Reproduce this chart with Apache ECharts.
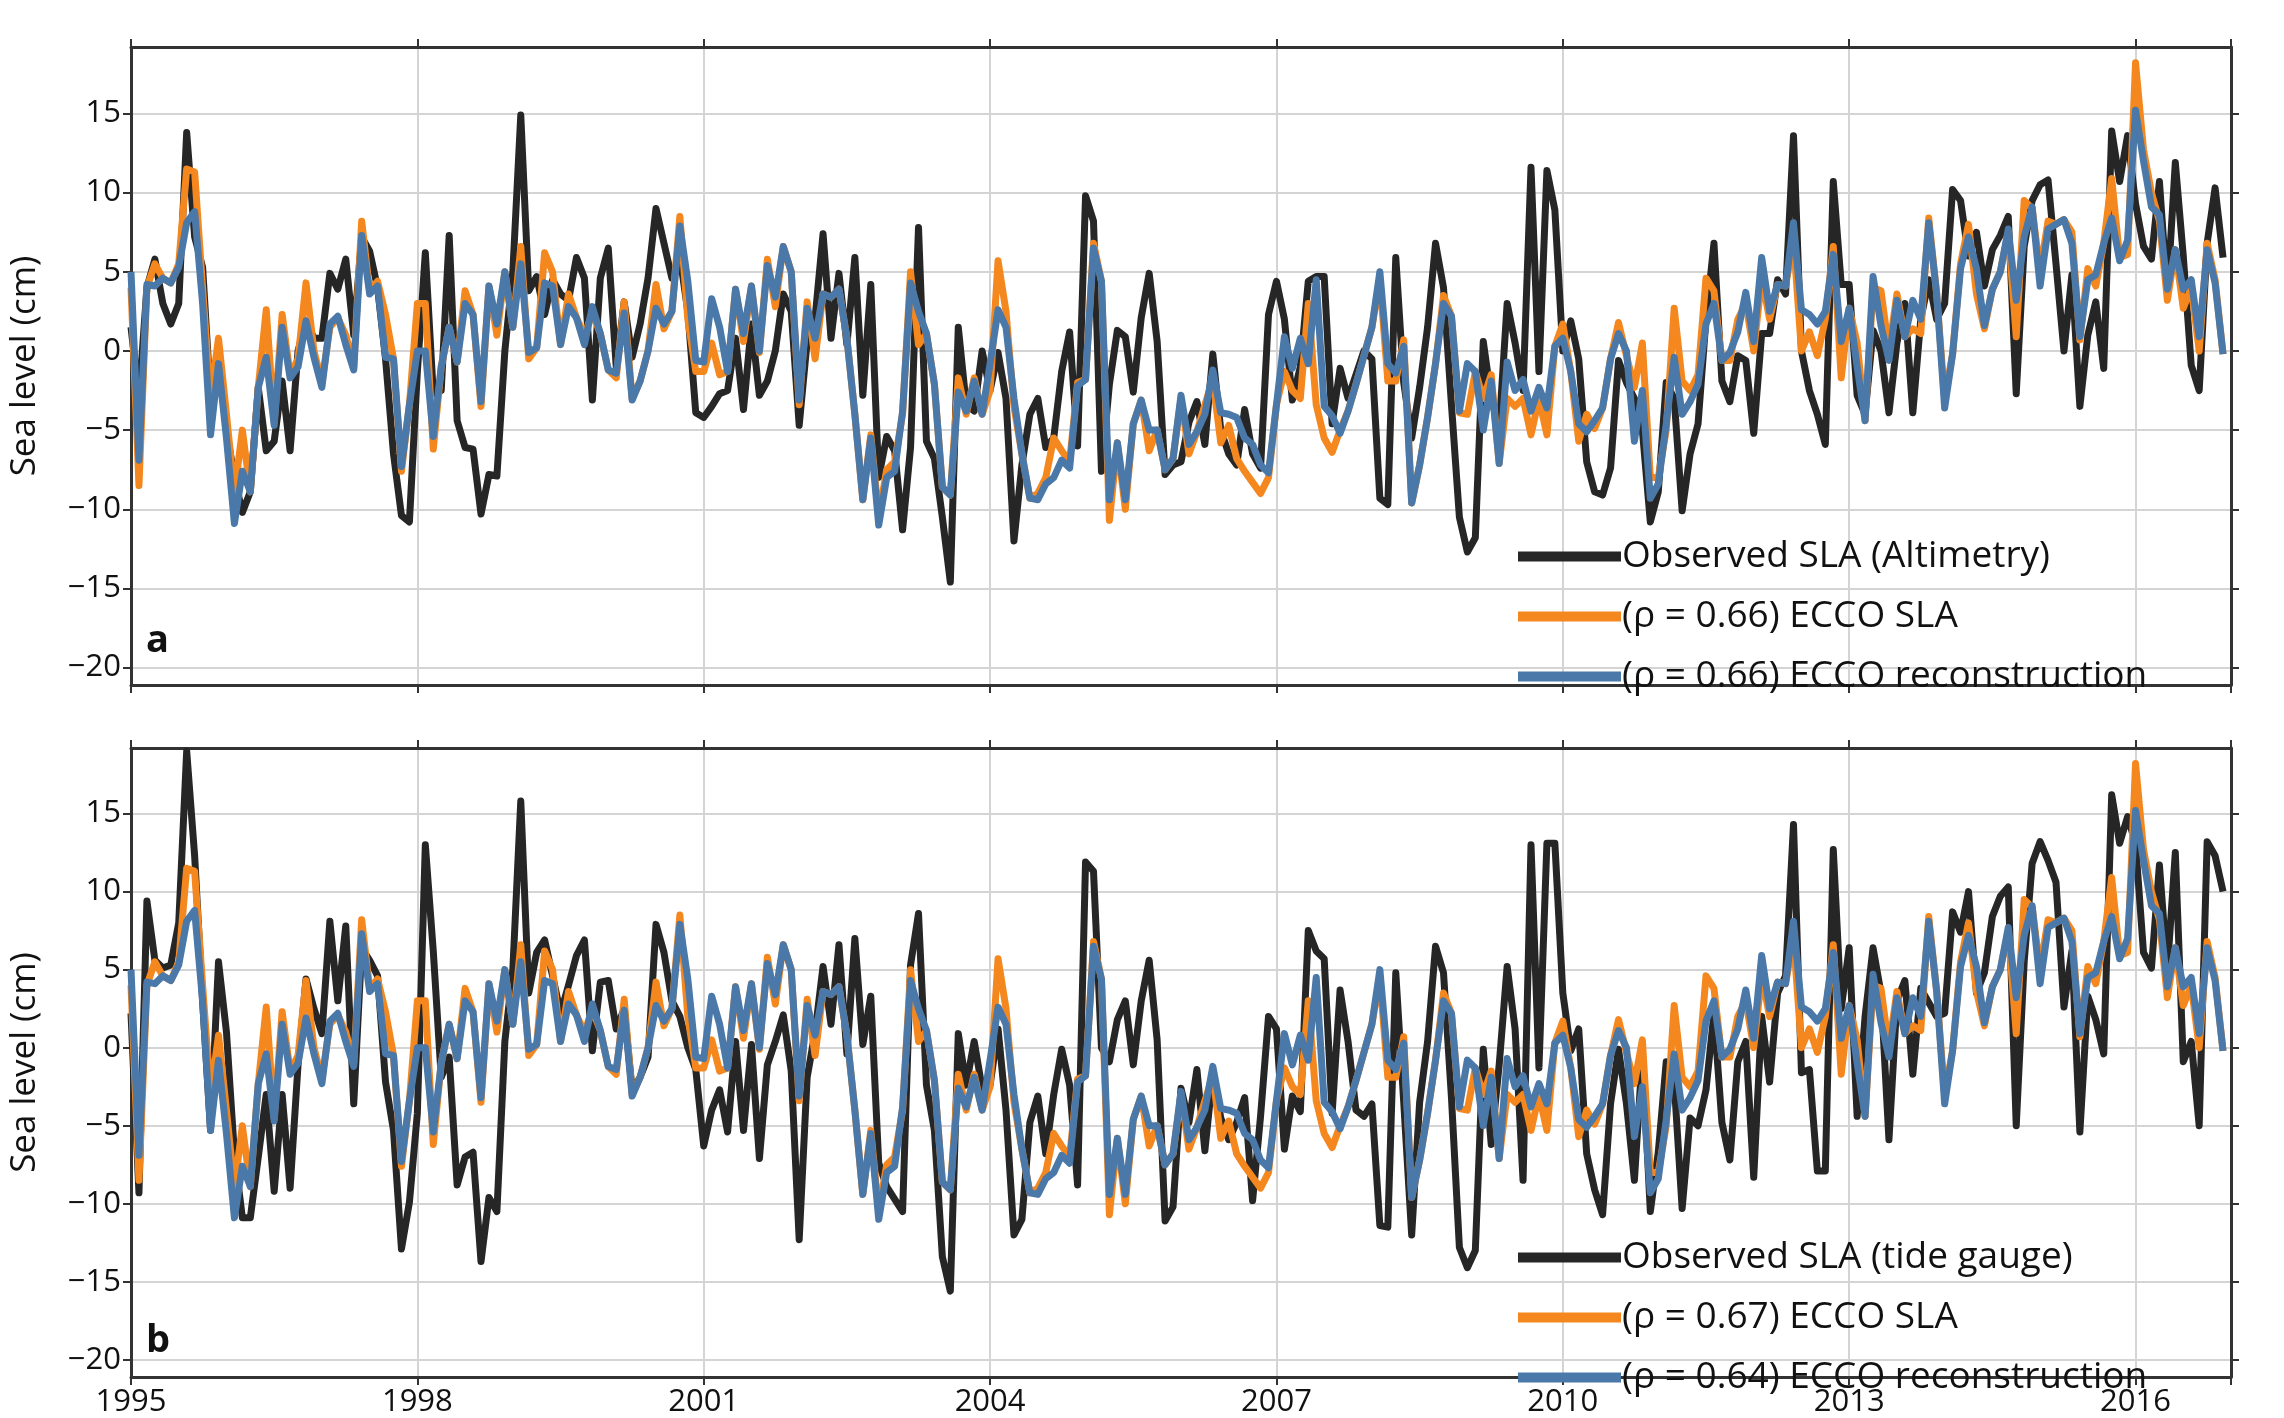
<!DOCTYPE html>
<html><head><meta charset="utf-8">
<script src="https://cdn.jsdelivr.net/npm/echarts@6.0.0/dist/echarts.min.js"></script>
<style>html,body{margin:0;padding:0;background:#fff}#c{width:2284px;height:1418px}</style>
</head><body><div id="c"></div>
<script>
const startYear = 1995;
const yTicks = [-20,-15,-10,-5,0,5,10,15];
const reconstruction = [
5,-6.9,4.2,4.1,4.6,4.3,5.3,8.1,8.8,3,-5.3,-0.8,
-5.5,-10.9,-7.6,-8.9,-2.3,-0.4,-4.7,1.5,-1.7,-1,1.9,-0.4,
-2.3,1.7,2.2,0.4,-1.2,7.3,3.6,4.1,-0.4,-0.5,-7.3,-3.4,
0,0,-5.4,-1,1.5,-0.7,3,2.3,-3.2,4.1,1.7,5,
1.5,5.5,-0.1,0.2,4.3,4.1,0.4,2.8,2.1,0.4,2.8,1.1,
-1.2,-1.4,2.4,-3.1,-1.9,0,2.7,1.7,2.5,7.9,4.4,-0.6,
-0.7,3.3,1.5,-1.3,3.9,1.1,4.1,0,5.4,3.4,6.6,5,
-3.1,2.7,0.8,3.6,3.4,3.9,0.8,-4,-9.4,-5.5,-11,-8,
-7.6,-3.8,4.3,2.5,1.1,-2.1,-8.6,-9.1,-2.6,-3.8,-1.9,-4,
-0.8,2.6,1.5,-3,-6.5,-9.3,-9.4,-8.4,-8,-6.9,-7.4,-2.2,
-1.8,6.5,4.4,-9.4,-5.8,-9.4,-4.6,-3.1,-5,-5,-7.5,-6.8,
-2.8,-5.9,-5.1,-4,-1.2,-3.9,-4,-4.2,-5.5,-5.9,-7.2,-7.7,
-3.4,0.9,-1.1,0.8,-0.8,4.5,-3.5,-4.1,-5.2,-3.8,-2.1,-0.3,
1.5,5,-0.8,-1.4,0.3,-9.6,-7.2,-4.2,-0.8,3,2.2,-3.8,
-0.8,-1.3,-5,-1.9,-7.1,-0.7,-2.5,-1.8,-3.8,-2.3,-3.6,0.3,
0.8,-1.3,-4.6,-5.1,-4.4,-3.6,-0.5,1.1,0,-5.7,-2.5,-9.3,
-8.4,-4.6,-0.4,-4,-3.2,-2.1,1.7,3,-0.6,-0.1,1.2,3.7,
0.6,5.9,2.5,4.2,4.1,8.1,2.6,2.3,1.7,2.5,6.1,0.6,
2.7,-1,-4.4,4.7,1.6,-0.6,3.2,0.9,3.2,2,8.1,3.6,
-3.6,-0.2,5.2,7.2,5.2,1.6,3.9,5,7.7,3.2,7.2,9.1,
4.1,7.7,8,8.3,6.8,0.9,4.5,4.8,6.8,8.4,5.7,7,
15.2,12,9.1,8.6,3.9,6.4,3.9,4.5,0.9,6.4,4.3,-0.2
];
const eccoSLA = [
4,-8.5,4,5.5,4.6,4.3,5.5,11.5,11.3,4,-3,0.8,
-4,-9,-5,-8.9,-2.3,2.6,-4.5,2.3,-1.5,-0.5,4.3,0,
-2,1.5,2.1,1,-1,8.2,3.8,4.4,2.3,-0.5,-7.6,-3.4,
3,3,-6.2,-1,1.5,-0.7,3.8,2.3,-3.5,4.1,1,5,
1.5,6.6,-0.5,0.2,6.2,5,0.4,3.6,2.1,1,2.4,1.1,
-1.2,-1.7,3.1,-3,-1.9,0,4.2,1.4,2.5,8.5,2,-1.3,
-1.3,0.5,-1.5,-1.3,3.9,0.6,4.1,-0.1,5.8,2.8,6.6,5,
-3.4,3.1,-0.5,3.6,3.4,3.9,0.8,-4,-9.4,-5.3,-10.5,-7.5,
-7,-4,5,0.4,1.1,-2.1,-8.6,-9.1,-1.7,-4,-1.7,-4,
-2.5,5.7,2.5,-3.5,-6.5,-9.3,-9,-8,-5.5,-6.3,-7,-2,
-1.8,6.8,4.4,-10.7,-5.8,-10,-4.6,-3.1,-6.3,-5,-7.5,-6.8,
-3,-6.5,-5.1,-3.4,-1.8,-5.8,-4.7,-6.8,-7.6,-8.3,-9,-8,
-3.4,-1.3,-2.5,-3,3,-3.4,-5.5,-6.4,-5,-3.8,-2.1,-0.3,
1.5,4.5,-1.9,-1.9,0.7,-9.6,-7.2,-4.2,-0.8,3.5,2.2,-3.9,
-4,-1.3,-3,-1.5,-7.1,-3,-3.5,-3,-5.3,-3,-5.3,0.3,
1.7,-1.3,-5.7,-4,-4.9,-3.6,-0.5,1.8,-0.3,-2.3,0.5,-8,
-8,-5,2.7,-1.9,-2.5,-1.5,4.6,3.8,-0.6,-0.6,2,3,
0,4.6,2,4.2,4.1,7,0,1.2,-0.3,2,6.6,-1.7,
2.7,0.5,-4.4,4,3.8,0,3.6,0.9,1.4,1.1,8.4,3.6,
-3,-0.2,5.5,8,3.6,1.4,3.9,5,7.5,0.9,9.5,9,
5,8.2,8,8.3,7.5,0.7,5.2,4.1,6.8,10.9,5.9,6.1,
18.2,12.7,10,8.2,3.2,6.4,2.7,4,0,6.8,4.5,-0.2
];
const observedAltimetry = [
1.5,-3,4,5.8,3,1.7,3,13.8,7.2,5.3,-3,-0.5,
-5,-8,-10.2,-8.9,-2.3,-6.3,-5.7,-1.9,-6.3,0,1.9,0.8,
0.8,4.9,3.9,5.8,1,7.2,6.3,4,-0.5,-6.5,-10.4,-10.8,
-1.3,6.2,-2.7,-2.5,7.3,-4.4,-6.1,-6.2,-10.3,-7.8,-7.9,0,
5,14.9,3.8,4.7,2.3,4.5,3.6,3.2,5.9,4.6,-3.1,4.6,
6.5,-1,3.1,-0.4,1.7,4.6,9,6.8,4.6,6,2.5,-3.9,
-4.2,-3.5,-2.7,-2.5,0.8,-3.7,1.7,-2.8,-1.9,0,3.6,2.5,
-4.7,0.6,2.1,7.4,0.8,4.9,0.4,5.9,-2.8,4.2,-8,-5.4,
-6.3,-11.3,-6.1,7.8,-5.7,-6.8,-10.5,-14.6,1.5,-3.4,-3.8,0,
-2.5,-0.1,-3,-12,-7.2,-4,-3,-6.1,-5.5,-1.3,1.2,-6,
9.8,8.2,-7.6,-2.1,1.3,0.9,-2.6,2.1,4.9,0.6,-7.8,-7.2,
-7,-4.5,-3.2,-5.9,-0.2,-5,-6.5,-7.2,-3.7,-6.5,-7.4,2.3,
4.4,2,-3.1,-1,4.4,4.7,4.7,-4.6,-1.1,-3,-1.5,0,
-0.5,-9.3,-9.7,5.9,-2,-5.5,-2.3,1.5,6.8,4,-3.4,-10.5,
-12.7,-11.8,0.6,-3,-4.9,3,0.5,-2.5,11.6,-1.3,11.4,8.9,
0,1.9,-0.5,-7,-8.9,-9.1,-7.4,-0.6,-2,-3,-5,-10.8,
-8.9,-2,-3,-10.1,-6.5,-4.6,2,6.8,-1.9,-3.2,-0.3,-0.6,
-5.2,1.1,1.1,4.5,3.6,13.6,0,-2.5,-4,-5.9,10.7,4.2,
4.2,-2.8,-4,1.3,0,-3.9,0.5,3,-3.9,2,4.5,2,
3,10.2,9.5,6,7.5,4.1,6.4,7.3,8.5,-2.7,6.6,9.5,
10.5,10.8,5.5,0,4.8,-3.5,1,3.1,-1.1,13.9,10.7,13.6,
9.3,6.6,5.8,10.7,3.6,11.9,6,-0.9,-2.5,6.8,10.3,5.9
];
const observedTideGauge = [
2.2,-9.3,9.4,5.6,5.1,5.3,8,19,12.3,3,-5.3,5.5,
1,-6.8,-10.9,-10.9,-7,-3,-9.2,-3,-9,-1.1,4.4,2.5,
0.9,8.1,3,7.8,-3.6,6.4,5.6,4.6,-2.2,-5.3,-12.9,-9.9,
-4.2,13,6.2,-1.9,-0.6,-8.8,-7,-6.7,-13.7,-9.6,-10.5,0.4,
5,15.8,3.5,6.1,6.9,4.6,2.2,4,5.9,6.9,-0.2,4.2,
4.3,1.2,2.5,-2.7,-1.9,-0.6,7.9,6.1,3,2,0,-1.4,
-6.3,-4,-2.7,-5.4,0.4,-5.3,0.2,-7.1,-1.1,0.4,2.1,-1.5,
-12.3,-1.9,1,5.2,1.5,6.6,-0.4,7,0.2,3.3,-7.4,-8.9,
-9.7,-10.5,5.3,8.6,-2.4,-5.3,-13.4,-15.6,0.9,-2.4,0.4,-2.6,
-2.4,1.2,-4,-12,-11,-4.8,-3.1,-6.8,-3,-0.1,-2.4,-8.8,
11.9,11.3,0,-0.9,1.8,3,-1.1,3,5.6,0.5,-11.1,-10.2,
-2.6,-4.8,-1.4,-6.6,-1.7,-4.5,-5.9,-4.8,-3.2,-9.8,-4.4,2,
1.2,-6.5,-3.1,-4.1,7.5,6.2,5.7,-4.2,3.7,0.4,-4,-4.4,
-3.6,-11.4,-11.5,4.8,-3.5,-12,-3.5,0.4,6.5,4.8,-3.2,-12.8,
-14.1,-13,-0.1,-6.2,-1.1,5.2,1.2,-8.5,13,-1.3,13.1,13.1,
3.5,-0.2,1.2,-6.8,-9.1,-10.7,-3.6,-0.1,-3.6,-8.5,-0.4,-10.5,
-6.7,-0.9,-2.2,-10.3,-4.5,-5,-2.7,2.2,-4.8,-7.2,-0.9,0.4,
-8.3,2,-2.2,3.5,4.6,14.3,-1.6,-1.4,-7.9,-7.9,12.7,2.5,
6.4,-4.4,2,6.4,3.5,-5.9,3,4.3,-1.7,3.8,2.9,2,
2.2,8.7,7.4,10,3.5,4.8,8.4,9.7,10.3,-5,5.5,11.8,
13.2,12,10.6,2.6,6.2,-5.4,3.3,1.8,-0.4,16.2,13.1,14.8,
13.1,6.1,5.1,11.7,5,12.5,-0.9,0.4,-5,13.2,12.3,10
];
const namesA = ['Observed SLA (Altimetry)','(ρ = 0.66) ECCO SLA','(ρ = 0.66) ECCO reconstruction'];
const namesB = ['Observed SLA (tide gauge)','(ρ = 0.67) ECCO SLA','(ρ = 0.64) ECCO reconstruction'];

const toPairs = arr => arr.map((v,i)=>[startYear + i/12, v]);
const FONT = 'Open Sans';
const cBlack='#262626', cOrange='#F5871F', cBlue='#4A78A8';
const grids = [
  {left:128, top:47, width:2103, height:638},
  {left:128, top:748, width:2103, height:637}
];
function xAx(gi, showLabel){
  return {type:'value', gridIndex:gi, min:1995, max:2017, interval:3,
    axisLine:{show:true, onZero:false, lineStyle:{color:'#333', width:3}},
    axisTick:{show:true, length:8, lineStyle:{color:'#333', width:2}},
    axisLabel:{show:showLabel, color:'#111', fontSize:31, fontFamily:FONT, margin:10,
      formatter: v => (v>=2017 ? '' : String(v))},
    splitLine:{show:true, lineStyle:{color:'#d4d4d4', width:2}}};
}
function xTop(gi){
  return {type:'value', gridIndex:gi, position:'top', min:1995, max:2017, interval:3,
    axisLine:{show:true, onZero:false, lineStyle:{color:'#333', width:3}},
    axisTick:{show:true, length:8, lineStyle:{color:'#333', width:2}},
    axisLabel:{show:false}, splitLine:{show:false}};
}
function yAx(gi, pos){
  const left = pos==='left';
  return {type:'value', gridIndex:gi, position:pos, min:-21.1, max:19.2,
    name: left ? 'Sea level (cm)' : '', nameLocation:'middle', nameGap:88,
    nameTextStyle:{fontSize:35, fontFamily:FONT, color:'#111'},
    axisLine:{show:true, onZero:false, lineStyle:{color:'#333', width:3}},
    axisTick:{show:true, length:8, customValues:yTicks, lineStyle:{color:'#333', width:2}},
    axisLabel:{show:left, customValues:yTicks, color:'#111', fontSize:31, fontFamily:FONT, margin:10,
      formatter: v => (v<0 ? '\u2212'+Math.abs(v) : String(v))},
    splitLine:{show:left, lineStyle:{color:'#d4d4d4', width:2}}};
}
function line(name, data, color, xi, yi, z){
  return {type:'line', name, data:toPairs(data), xAxisIndex:xi, yAxisIndex:yi,
    showSymbol:false, symbol:'none', z, lineStyle:{color, width:7, join:'round'}, itemStyle:{color},
    emphasis:{disabled:true}, animation:false};
}
function legend(names, top){
  return {data:names, orient:'vertical', left:1513, top, itemWidth:103, itemHeight:10, itemGap:23,
    icon:'rect', textStyle:{fontSize:37, fontFamily:FONT, color:'#111', padding:[0,0,0,-4]}, selectedMode:false};
}
const chart = echarts.init(document.getElementById('c'));
chart.setOption({
  animation:false,
  backgroundColor:'#fff',
  grid: grids,
  xAxis:[xAx(0,false), xAx(1,true), xTop(0), xTop(1)],
  yAxis:[yAx(0,'left'), yAx(1,'left'), yAx(0,'right'), yAx(1,'right')],
  legend:[legend(namesA, 533), legend(namesB, 1234)],
  series:[
    line(namesA[0], observedAltimetry, cBlack, 0, 0, 2),
    line(namesA[1], eccoSLA, cOrange, 0, 0, 3),
    line(namesA[2], reconstruction, cBlue, 0, 0, 4),
    line(namesB[0], observedTideGauge, cBlack, 1, 1, 2),
    line(namesB[1], eccoSLA, cOrange, 1, 1, 3),
    line(namesB[2], reconstruction, cBlue, 1, 1, 4)
  ],
  graphic:[
    {type:'text', left:146, top:622, style:{text:'a', font:'bold 38px "Open Sans"', fill:'#111'}},
    {type:'text', left:146, top:1322, style:{text:'b', font:'bold 38px "Open Sans"', fill:'#111'}}
  ]
});
</script></body></html>
